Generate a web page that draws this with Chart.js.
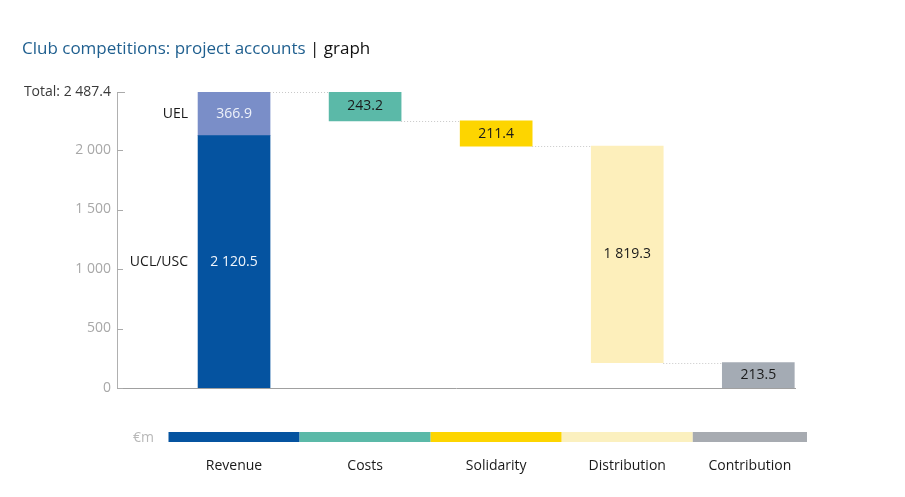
<!DOCTYPE html>
<html>
<head>
<meta charset="utf-8">
<script src="https://cdn.jsdelivr.net/npm/chart.js@4.4.0/dist/chart.umd.min.js"></script>
<style>
  html, body { margin: 0; padding: 0; background: #fff; }
  #wrap { position: relative; width: 905px; height: 497px; }
  #title { position: absolute; left: 22px; top: 36px; font: 17px "Open Sans", sans-serif; color: #1f5f8f; white-space: nowrap; }
  #title b { font-weight: normal; color: #111; }
  canvas { position: absolute; left: 0; top: 0; }
</style>
</head>
<body>
<div id="wrap">
  <canvas id="chart" width="905" height="497"></canvas>
  <div id="title">Club competitions: project accounts <b>| graph</b></div>
</div>
<script>
// Données (millions d'euros)
const categories = ['Revenue', 'Costs', 'Solidarity', 'Distribution', 'Contribution'];
const revenueParts = ['UCL/USC', 'UEL'];
const revenueValues = [2120.5, 366.9];
const flowValues = [243.2, 211.4, 1819.3, 213.5]; // Costs, Solidarity, Distribution, Contribution
const total = 2487.4;
const yTicks = [0, 500, 1000, 1500, 2000, total];

const revenueColors = ['#0553a0', '#7a8ec8'];
const flowColors = ['#5bb9a8', '#fdd500', '#fdefbb', '#a4abb4'];
const stripColors = ['#0553a0', '#5bb9a8', '#fdd500', '#fbf0bf', '#a7abb1'];

const FONT = '"Open Sans", sans-serif';

function fmt(v) {
    // espace comme séparateur des milliers
    const p = v.toFixed(1).split('.');
    return p[0].replace(/\B(?=(\d{3})+(?!\d))/g, ' ') + '.' + p[1];
}

// Barres flottantes : cumul descendant depuis le total
let level = total;
const flowBars = [null];
flowValues.forEach((v, i) => {
    if (i === flowValues.length - 1) { flowBars.push([0, v]); return; }
    flowBars.push([level - v, level]);
    level -= v;
});

const datasets = [
    { label: revenueParts[0], data: [{ x: 0, y: [0, revenueValues[0]] }], backgroundColor: revenueColors[0], textColor: '#f2f6fb', side: true },
    { label: revenueParts[1], data: [{ x: 0, y: [revenueValues[0], revenueValues[0] + revenueValues[1]] }], backgroundColor: revenueColors[1], textColor: '#eef2fa', side: true },
    {
        label: 'flows',
        data: flowBars.map((b, i) => b ? { x: i, y: b } : null).filter(Boolean),
        backgroundColor: flowColors,
        textColor: '#1a1a1a'
    }
];

// Étiquettes de valeur et petits traits
const labelsPlugin = {
    id: 'waterfallExtras',
    afterDatasetsDraw(chart) {
        const ctx = chart.ctx;
        const xs = chart.scales.x, ys = chart.scales.y;
        const area = chart.chartArea;
        ctx.save();
        ctx.font = '14px ' + FONT;
        ctx.textBaseline = 'middle';

        // valeurs dans les barres
        chart.data.datasets.forEach((ds, di) => {
            const meta = chart.getDatasetMeta(di);
            meta.data.forEach((el, i) => {
                const y = (el.y + el.base) / 2;
                const raw = ds.data[i].y;
                ctx.fillStyle = ds.textColor;
                ctx.textAlign = 'center';
                ctx.fillText(fmt(raw[1] - raw[0]), el.x, y);
                if (ds.side) {
                    ctx.fillStyle = '#1a1a1a';
                    ctx.textAlign = 'right';
                    ctx.fillText(ds.label, el.x - el.width / 2 - 10, y);
                }
            });
        });

        // lignes pointillées de liaison
        ctx.strokeStyle = '#c8c8c8';
        ctx.lineWidth = 1;
        ctx.setLineDash([1, 2]);
        const halfW = 36;
        const levels = [total];
        let l = total;
        flowValues.slice(0, -1).forEach(v => { l -= v; levels.push(l); });
        levels.forEach((lv, i) => {
            const yy = Math.round(ys.getPixelForValue(lv)) + 0.5;
            ctx.beginPath();
            ctx.moveTo(xs.getPixelForValue(i) + halfW, yy);
            ctx.lineTo(xs.getPixelForValue(i + 1) - halfW, yy);
            ctx.stroke();
        });
        ctx.setLineDash([]);

        // traits de graduation à droite de l'axe
        ctx.strokeStyle = '#aaaaaa';
        yTicks.forEach(t => {
            const yy = Math.round(ys.getPixelForValue(t)) + 0.5;
            ctx.beginPath();
            ctx.moveTo(area.left, yy);
            ctx.lineTo(area.left + (t === total ? 8 : 6), yy);
            ctx.stroke();
        });

        // bandeau de couleurs en bas
        const top = 432, h = 10;
        categories.forEach((c, i) => {
            const x0 = xs.getPixelForValue(i - 0.5);
            let x1 = xs.getPixelForValue(i + 0.5);
            if (i === categories.length - 1) x1 = area.right + 12;
            ctx.fillStyle = stripColors[i];
            ctx.fillRect(x0, top, x1 - x0, h);
            ctx.fillStyle = '#1a1a1a';
            ctx.textAlign = 'center';
            ctx.fillText(c, (x0 + x1) / 2, 466);
        });
        ctx.fillStyle = '#b8b8b8';
        ctx.textAlign = 'left';
        ctx.fillText('€m', 133, 438);
        ctx.restore();
    }
};

new Chart(document.getElementById('chart'), {
    type: 'bar',
    data: { datasets: datasets },
    options: {
        responsive: false,
        animation: false,
        layout: { padding: { left: 0, top: 92, right: 110, bottom: 109 } },
        datasets: { bar: { grouped: false, barThickness: 72 } },
        plugins: { legend: { display: false }, tooltip: { enabled: false } },
        scales: {
            x: {
                type: 'linear',
                offset: false,
                min: -0.893,
                max: 4.28,
                grid: { display: false, drawTicks: false, offset: false },
                ticks: { display: false },
                border: { display: true, color: '#a0a0a0' },
                afterFit: s => { s.height = 0; }
            },
            y: {
                min: 0,
                max: total,
                afterBuildTicks: s => { s.ticks = yTicks.map(v => ({ value: v })); },
                grid: { display: false, drawTicks: false },
                border: { display: true, color: '#b0b0b0' },
                ticks: {
                    padding: 6,
                    font: { family: FONT, size: 14 },
                    color: c => c.tick && c.tick.value === total ? '#3a3a3a' : '#a8a8a8',
                    callback: v => v === total ? 'Total: ' + fmt(v) : String(v).replace(/\B(?=(\d{3})+(?!\d))/g, ' ')
                },
                afterFit: s => { s.width = 117; }
            }
        }
    },
    plugins: [labelsPlugin]
});
</script>
</body>
</html>
